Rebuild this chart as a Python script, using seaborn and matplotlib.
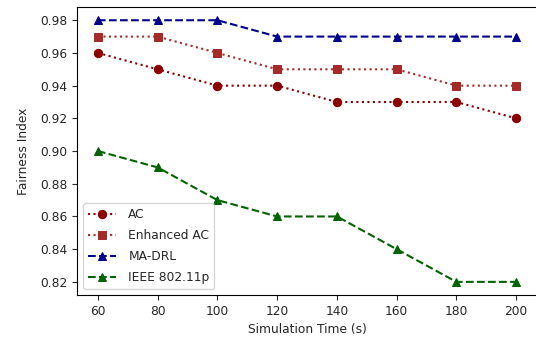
import numpy as np
import pandas as pd
import matplotlib
matplotlib.use("Agg")
import matplotlib.pyplot as plt
import seaborn as sns

sim_time = [60, 80, 100, 120, 140, 160, 180, 200]
ac = [0.96, 0.95, 0.94, 0.94, 0.93, 0.93, 0.93, 0.92]
enhanced_ac = [0.97, 0.97, 0.96, 0.95, 0.95, 0.95, 0.94, 0.94]
ma_drl = [0.98, 0.98, 0.98, 0.97, 0.97, 0.97, 0.97, 0.97]
ieee = [0.90, 0.89, 0.87, 0.86, 0.86, 0.84, 0.82, 0.82]

sns.reset_orig()
plt.rcParams['font.family'] = ['DejaVu Sans']
plt.rcParams['font.size'] = 8.8
plt.rcParams['text.color'] = '#262626'
plt.rcParams['axes.labelcolor'] = '#262626'
plt.rcParams['xtick.color'] = '#262626'
plt.rcParams['ytick.color'] = '#262626'

fig, ax = plt.subplots(figsize=(5.36, 3.41), dpi=100)

series = [
    ("AC", ac, "darkred", "o", ":"),
    ("Enhanced AC", enhanced_ac, "brown", "s", ":"),
    ("MA-DRL", ma_drl, "darkblue", "^", "--"),
    ("IEEE 802.11p", ieee, "darkgreen", "^", "--"),
]
for name, vals, color, marker, ls in series:
    sns.lineplot(x=sim_time, y=vals, ax=ax, color=color, marker=marker,
                 linestyle=ls, markersize=6, markeredgecolor=color,
                 linewidth=1.5, label=name)

yt = np.round(np.arange(0.82, 0.981, 0.02), 2)
ax.set_xticks(sim_time)
ax.set_yticks(yt)
ax.set_yticklabels([f"{v:.2f}" for v in yt])
ax.set_xlabel("Simulation Time (s)")
ax.set_ylabel("Fairness Index", labelpad=7)
ax.legend(loc="lower left", fontsize=8.8, handlelength=2.3,
          handletextpad=1.0, labelspacing=0.65)
fig.subplots_adjust(left=0.1437, right=1.002, top=0.979, bottom=0.135)
fig.savefig("out.png", dpi=100)
